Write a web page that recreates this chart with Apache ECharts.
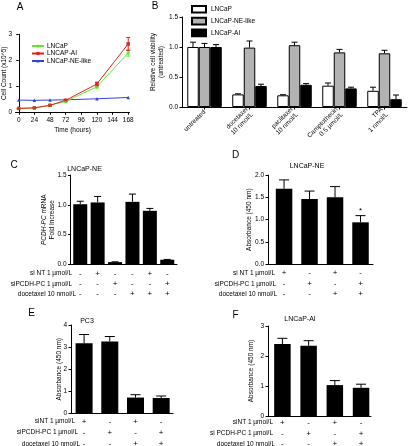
<!DOCTYPE html>
<html><head><meta charset="utf-8">
<script src="https://cdn.jsdelivr.net/npm/echarts@6/dist/echarts.min.js"></script>
<style>html,body{margin:0;padding:0;background:#fff}#c{width:408px;height:446px}</style>
</head><body><div id="c"></div>
<script>
const FONT = '"Liberation Sans", Arial, sans-serif';

// ---- Panel A: cell count over time ----
const timeHours = [0, 24, 48, 72, 120, 168];
const timeTicks = [0, 24, 48, 72, 96, 120, 144, 168];
const countLNCaP = [0.15, 0.17, 0.27, 0.42, 0.98, 2.28];
const countLNCaPErr = [0.01, 0.01, 0.02, 0.02, 0.05, 0.12];
const countAI = [0.15, 0.17, 0.27, 0.46, 1.09, 2.63];
const countAIErr = [0.01, 0.01, 0.02, 0.02, 0.07, 0.25];
const countNE = [0.47, 0.46, 0.47, 0.48, 0.52, 0.57];

// ---- Panel B: relative viability ----
const treatments = ['untreated', 'docetaxel\n10 nmol/L', 'paclitaxel\n10 nmol/L', 'Camptothecin\n0.5 \u00b5mol/L', 'TPA\n1 nmol/L'];
const viabLNCaP = [1.0, 0.21, 0.195, 0.355, 0.27];
const viabLNCaPErr = [0.08, 0.01, 0.01, 0.045, 0.06];
const viabNE = [1.0, 0.99, 1.03, 0.91, 0.895];
const viabNEErr = [0.06, 0.11, 0.05, 0.05, 0.05];
const viabAI = [1.0, 0.35, 0.37, 0.31, 0.13];
const viabAIErr = [0.04, 0.03, 0.02, 0.02, 0.07];

// ---- Panel C: PCDH-PC mRNA ----
const cIdx = [1, 2, 3, 4, 5, 6];
const cVals = [1.01, 1.04, 0.04, 1.05, 0.90, 0.08];
const cErr = [0.05, 0.10, 0.005, 0.13, 0.04, 0.005];
const cSiNT = ['-', '+', '-', '-', '+', '-'];
const cSiPCDH = ['-', '-', '+', '-', '-', '+'];
const cDoce = ['-', '-', '-', '+', '+', '+'];

// ---- Panel D: LNCaP-NE absorbance ----
const dIdx = [1, 2, 3, 4];
const dVals = [1.69, 1.46, 1.50, 0.94];
const dErr = [0.20, 0.18, 0.24, 0.15];
const dSig = ['', '', '', '*'];
const dSiNT = ['+', '-', '+', '-'];
const dSiPCDH = ['-', '+', '-', '+'];
const dDoce = ['-', '-', '+', '+'];

// ---- Panel E: PC3 absorbance ----
const eIdx = [1, 2, 3, 4];
const eVals = [3.18, 3.25, 0.72, 0.70];
const eErr = [0.39, 0.23, 0.13, 0.09];
const eSiNT = ['+', '-', '+', '-'];
const eSiPCDH = ['-', '+', '-', '+'];
const eDoce = ['-', '-', '+', '+'];

// ---- Panel F: LNCaP-AI absorbance ----
const fIdx = [1, 2, 3, 4];
const fVals = [2.40, 2.34, 1.03, 0.94];
const fErr = [0.19, 0.17, 0.15, 0.12];
const fSiNT = ['+', '-', '+', '-'];
const fSiPCDH = ['-', '+', '-', '+'];
const fDoce = ['-', '-', '+', '+'];

const BLACK = '#000';
const lineStyle = {color: BLACK, width: 1};

function errSeries(xi, yi, xs, vals, errs, opts) {
  const o = Object.assign({offset: 0, cap: 3, sym: false, color: BLACK, sig: null}, opts || {});
  return {
    type: 'custom', xAxisIndex: xi, yAxisIndex: yi, clip: false, silent: true, z: 5,
    data: xs.map((x, i) => [x, vals[i], errs[i], i]),
    renderItem: (params, api) => {
      const x = api.value(0), v = api.value(1), e = api.value(2), i = api.value(3);
      const top = api.coord([x, v + e]);
      const bot = api.coord([x, o.sym ? v - e : v]);
      const cx = top[0] + o.offset;
      const st = {stroke: o.color, lineWidth: 1};
      const ch = [
        {type: 'line', shape: {x1: cx, y1: bot[1], x2: cx, y2: top[1]}, style: st},
        {type: 'line', shape: {x1: cx - o.cap, y1: top[1], x2: cx + o.cap, y2: top[1]}, style: st}
      ];
      if (o.sym) ch.push({type: 'line', shape: {x1: cx - o.cap, y1: bot[1], x2: cx + o.cap, y2: bot[1]}, style: st});
      if (o.sig && o.sig[i]) ch.push({type: 'text', x: cx, y: top[1] - 5,
        style: {text: o.sig[i], fill: BLACK, fontSize: 8, fontFamily: FONT, align: 'center', verticalAlign: 'middle'}});
      return {type: 'group', children: ch};
    }
  };
}

function rowSeries(xi, yi, idx, rows, offsets) {
  const data = [];
  idx.forEach((x) => rows.forEach((r, j) => data.push([x, j])));
  return {
    type: 'custom', xAxisIndex: xi, yAxisIndex: yi, clip: false, silent: true,
    data,
    renderItem: (params, api) => {
      const x = api.value(0), j = api.value(1);
      const p = api.coord([x, 0]);
      const i = idx.indexOf(x);
      return {type: 'text', x: p[0], y: p[1] + offsets[j],
        style: {text: rows[j][i], fill: BLACK, fontSize: 8, fontFamily: FONT, align: 'center', verticalAlign: 'middle'}};
    }
  };
}

function barSeries(xi, yi, idx, vals, w) {
  return {type: 'bar', xAxisIndex: xi, yAxisIndex: yi, barWidth: w, silent: true,
    itemStyle: {color: BLACK}, data: idx.map((x, i) => [x, vals[i]])};
}

function yAx(gi, max, interval, dec, name, gap, extra) {
  return Object.assign({
    type: 'value', gridIndex: gi, min: 0, max, interval,
    axisLine: {show: true, lineStyle},
    axisTick: {show: true, length: 2.5, lineStyle},
    axisLabel: {fontSize: 6.5, color: BLACK, fontFamily: FONT, margin: 4,
      formatter: (v) => v.toFixed(dec)},
    splitLine: {show: false},
    name, nameLocation: 'middle', nameGap: gap, nameMoveOverlap: false,
    nameTextStyle: {fontSize: 6.5, color: BLACK, fontFamily: FONT, lineHeight: 8}
  }, extra || {});
}

function xVal(gi, min, max) {
  return {type: 'value', gridIndex: gi, min, max,
    axisLine: {show: true, onZero: false, lineStyle}, axisTick: {show: false},
    axisLabel: {show: false}, splitLine: {show: false}};
}

function txt(x, y, text, size, align) {
  return {type: 'text', x, y, silent: true,
    style: {text, fill: BLACK, fontSize: size, fontFamily: FONT, align: align || 'center', verticalAlign: 'middle'}};
}

const grids = [
  {left: 15.5, top: 34.3, width: 114, height: 78},
  {left: 182, top: 17, width: 225, height: 90},
  {left: 70.5, top: 175, width: 106.5, height: 89.5},
  {left: 268, top: 175, width: 105, height: 89.3},
  {left: 71, top: 325, width: 102, height: 88.5},
  {left: 268, top: 326, width: 103, height: 90}
].map(g => Object.assign({outerBoundsMode: 'none', containLabel: false}, g));

const option = {
  animation: false,
  textStyle: {fontFamily: FONT},
  grid: grids,
  legend: [
    {left: 26, top: 37.5, orient: 'vertical', itemWidth: 12, itemHeight: 4, itemGap: 0.5,
      selectedMode: false, textStyle: {fontSize: 6.5, color: BLACK, fontFamily: FONT, padding: [0, 0, 0, -2]},
      data: ['LNCaP', 'LNCAP-AI', 'LNCaP-NE-like']},
    {left: 186, top: 0, orient: 'vertical', itemWidth: 14, itemHeight: 6.6, itemGap: 3.2, icon: 'rect',
      selectedMode: false, textStyle: {fontSize: 6.5, color: BLACK, fontFamily: FONT},
      data: ['LNCaP ', 'LNCaP-NE-like ', 'LNCaP-AI']}
  ],
  xAxis: [
    {type: 'value', gridIndex: 0, min: -5, max: 170,
      axisLine: {show: true, onZero: false, lineStyle},
      axisTick: {show: true, length: 2.5, lineStyle, customValues: timeTicks},
      axisLabel: {fontSize: 6.5, color: BLACK, fontFamily: FONT, margin: 4, customValues: timeTicks},
      splitLine: {show: false},
      name: 'Time (hours)', nameLocation: 'middle', nameGap: 14, nameMoveOverlap: false,
      nameTextStyle: {fontSize: 6.5, color: BLACK, fontFamily: FONT}},
    {type: 'category', gridIndex: 1, data: treatments,
      axisLine: {show: true, lineStyle},
      axisTick: {show: true, alignWithLabel: true, length: 2.5, lineStyle},
      axisLabel: {interval: 0, rotate: 45, fontSize: 6.5, lineHeight: 7.5, color: BLACK, fontFamily: FONT, margin: 4},
      splitLine: {show: false}},
    xVal(2, 0.44, 6.56),
    xVal(3, 0.37, 4.49),
    xVal(4, 0.49, 4.46),
    xVal(5, 0.45, 4.38)
  ],
  yAxis: [
    yAx(0, 3, 1, 0, 'Cell Count (x10^5)', 7, {axisLabel: {fontSize: 6.5, color: BLACK, fontFamily: FONT, margin: 3.5}}),
    yAx(1, 1.5, 0.5, 1, 'Relative cell viability\n(untreated)', 17),
    yAx(2, 1.5, 0.5, 1, '{i|PCDH-PC} mRNA\nFold Increase', 14, {
      nameTextStyle: {fontSize: 6.5, color: BLACK, fontFamily: FONT, lineHeight: 8,
        rich: {i: {fontStyle: 'italic', fontSize: 6.5, color: BLACK, fontFamily: FONT, lineHeight: 8}}}}),
    yAx(3, 2, 0.5, 1, 'Absorbance (450 nm)', 14.5),
    yAx(4, 4, 1, 0, 'Absorbance (450 nm)', 8),
    yAx(5, 3, 1, 0, 'Absorbance (450 nm)', 12.5)
  ],
  series: [
    // Panel A
    {type: 'line', name: 'LNCaP', xAxisIndex: 0, yAxisIndex: 0, symbol: 'circle', symbolSize: 3.5,
      color: '#66e633', lineStyle: {width: 1}, data: timeHours.map((t, i) => [t, countLNCaP[i]]), z: 3},
    {type: 'line', name: 'LNCAP-AI', xAxisIndex: 0, yAxisIndex: 0, symbol: 'rect', symbolSize: 3.5,
      color: '#dd2222', lineStyle: {width: 1}, data: timeHours.map((t, i) => [t, countAI[i]]), z: 4},
    {type: 'line', name: 'LNCaP-NE-like', xAxisIndex: 0, yAxisIndex: 0, symbol: 'triangle', symbolSize: 3.5,
      color: '#3344dd', lineStyle: {width: 1}, data: timeHours.map((t, i) => [t, countNE[i]]), z: 2},
    errSeries(0, 0, timeHours, countLNCaP, countLNCaPErr, {cap: 2, sym: true, color: '#66e633'}),
    errSeries(0, 0, timeHours, countAI, countAIErr, {cap: 2, sym: true, color: '#dd2222'}),
    // Panel B
    {type: 'bar', name: 'LNCaP ', xAxisIndex: 1, yAxisIndex: 1, barWidth: 11.5, barGap: '0%', silent: true,
      itemStyle: {color: '#fff', borderColor: BLACK, borderWidth: 1}, data: viabLNCaP},
    {type: 'bar', name: 'LNCaP-NE-like ', xAxisIndex: 1, yAxisIndex: 1, barWidth: 11.5, barGap: '0%', silent: true,
      itemStyle: {color: '#b3b3b3', borderColor: BLACK, borderWidth: 1}, data: viabNE},
    {type: 'bar', name: 'LNCaP-AI', xAxisIndex: 1, yAxisIndex: 1, barWidth: 11.5, barGap: '0%', silent: true,
      itemStyle: {color: BLACK, borderColor: BLACK, borderWidth: 1}, data: viabAI},
    errSeries(1, 1, treatments.map((_, i) => i), viabLNCaP, viabLNCaPErr, {offset: -11.5, cap: 3}),
    errSeries(1, 1, treatments.map((_, i) => i), viabNE, viabNEErr, {offset: 0, cap: 3}),
    errSeries(1, 1, treatments.map((_, i) => i), viabAI, viabAIErr, {offset: 11.5, cap: 3}),
    // Panel C
    barSeries(2, 2, cIdx, cVals, 14),
    errSeries(2, 2, cIdx, cVals, cErr, {cap: 3.5}),
    rowSeries(2, 2, cIdx, [cSiNT, cSiPCDH, cDoce], [9, 19.5, 29.5]),
    // Panel D
    barSeries(3, 3, dIdx, dVals, 16.5),
    errSeries(3, 3, dIdx, dVals, dErr, {cap: 5, sig: dSig}),
    rowSeries(3, 3, dIdx, [dSiNT, dSiPCDH, dDoce], [8.5, 19.7, 29.7]),
    // Panel E
    barSeries(4, 4, eIdx, eVals, 17),
    errSeries(4, 4, eIdx, eVals, eErr, {cap: 5}),
    rowSeries(4, 4, eIdx, [eSiNT, eSiPCDH, eDoce], [8.2, 19.2, 30.5]),
    // Panel F
    barSeries(5, 5, fIdx, fVals, 16.5),
    errSeries(5, 5, fIdx, fVals, fErr, {cap: 5}),
    rowSeries(5, 5, fIdx, [fSiNT, fSiPCDH, fDoce], [6.7, 17.3, 28])
  ],
  graphic: [
    txt(20, 7, 'A', 10), txt(155, 6, 'B', 10), txt(14, 165, 'C', 10),
    txt(235.5, 155, 'D', 10), txt(31.5, 313, 'E', 10), txt(235.5, 315, 'F', 10),
    txt(84.5, 169, 'LNCaP-NE', 7), txt(307, 166, 'LNCaP-NE', 7),
    txt(87, 321, 'PC3', 7), txt(300, 319, 'LNCaP-AI', 7),
    // row labels C
    txt(72, 273.5, 'si NT 1 \u00b5mol/L', 6.5, 'right'),
    txt(72, 284, 'siPCDH-PC 1 \u00b5mol/L', 6.5, 'right'),
    txt(76, 294, 'docetaxel 10 nmol/L', 6.5, 'right'),
    // row labels D
    txt(275, 272.8, 'si NT 1 \u00b5mol/L', 6.5, 'right'),
    txt(276, 284, 'siPCDH-PC 1 \u00b5mol/L', 6.5, 'right'),
    txt(277, 294, 'docetaxel 10 nmol/L', 6.5, 'right'),
    // row labels E
    txt(75, 421.7, 'siNT 1 \u00b5mol/L', 6.5, 'right'),
    txt(78, 432.7, 'siPCDH-PC 1 \u00b5mol/L', 6.5, 'right'),
    txt(80, 444, 'docetaxel 10 nmol/L', 6.5, 'right'),
    // row labels F
    txt(273, 422.7, 'siNT 1 \u00b5mol/L', 6.5, 'right'),
    txt(273, 433.3, 'si PCDH-PC 1 \u00b5mol/L', 6.5, 'right'),
    txt(275, 444, 'docetaxel 10 nmol/L', 6.5, 'right')
  ]
};

const chart = echarts.init(document.getElementById('c'), null, {renderer: 'canvas'});
chart.setOption(option);
</script></body></html>
